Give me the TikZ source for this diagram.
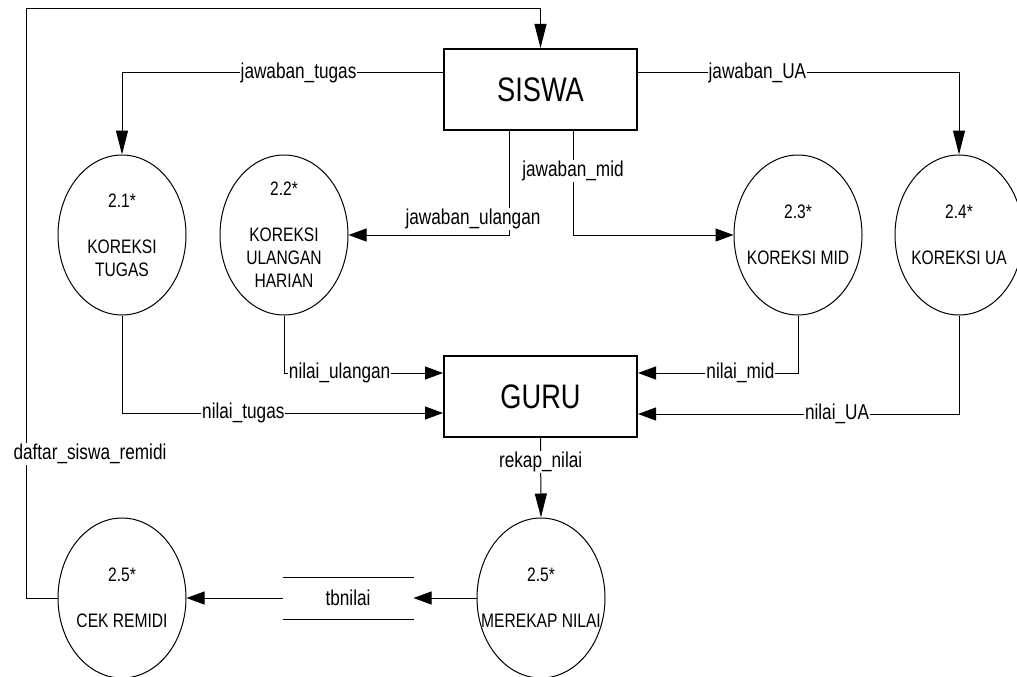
\documentclass[tikz,border=0pt]{standalone}
\usepackage{fontspec}
\setmainfont{Liberation Sans}[FakeStretch=0.8]
\usetikzlibrary{arrows.meta,shapes.geometric}
\newcommand{\bigtxt}{\fontsize{34}{40}\selectfont}
\newcommand{\proctxt}{\fontsize{19.5}{23}\selectfont}
\newcommand{\flowtxt}{\fontsize{21.5}{25}\selectfont}

\begin{document}
\begin{tikzpicture}[x=1pt, y=-1pt, line width=1pt,
    entity/.style={draw, line width=2pt, minimum width=193pt, minimum height=81pt, inner sep=0pt, font=\bigtxt},
    proc/.style={draw, ellipse, minimum width=128pt, minimum height=160pt, inner sep=0pt},
    ptext/.style={align=center, font=\proctxt, inner sep=0pt},
    store/.style={minimum width=130pt, minimum height=41pt, inner sep=0pt, font=\flowtxt},
    lbl/.style={fill=white, inner sep=1pt, font=\flowtxt},
    hflow/.style={-{Triangle[length=18pt,width=13pt]}},
    vflow/.style={-{Triangle[length=24pt,width=12pt]}}]
        \useasboundingbox (0,0) rectangle (1017,677);
        \node[entity] (siswa) at (540.5,89.5) {SISWA};
        \node[entity] (guru) at (540.5,396.5) {GURU};
        \node[proc] (k21) at (122,235) {};
        \node[proc] (k22) at (284,235) {};
        \node[proc] (k23) at (798,235) {};
        \node[proc] (k24) at (959,235) {};
        \node[proc] (rekap) at (541,598) {};
        \node[proc] (cek) at (122,598) {};
        \node[ptext] (t21) at (k21) {2.1*\\[23pt]KOREKSI\\TUGAS};
        \node[ptext] (t22) at (k22) {2.2*\\[23pt]KOREKSI\\ULANGAN\\HARIAN};
        \node[ptext] (t23) at (k23) {2.3*\\[23pt]KOREKSI MID};
        \node[ptext] (t24) at (k24) {2.4*\\[23pt]KOREKSI UA};
        \node[ptext] (trekap) at (rekap) {2.5*\\[23pt]MEREKAP NILAI};
        \node[ptext] (tcek) at (cek) {2.5*\\[23pt]CEK REMIDI};
        \node[store] (tb) at (348,598) {tbnilai};
        \draw (tb.north west) -- (tb.north east) (tb.south west) -- (tb.south east);
        \coordinate (corner) at (26,9);
        \draw[vflow] ([yshift=16.5pt]siswa.west) -| node[lbl, pos=0.225] {jawaban\_tugas} (k21.north);
        \draw[hflow] ([xshift=-31.5pt]siswa.south) |- node[lbl, pos=0.424, xshift=-36pt] {jawaban\_ulangan} (k22.east);
        \draw[hflow] ([xshift=32.5pt]siswa.south) |- node[lbl, pos=0.19] {jawaban\_mid} (k23.west);
        \draw[vflow] ([yshift=16.5pt]siswa.east) -| node[lbl, pos=0.186] {jawaban\_UA} (k24.north);
        \draw[hflow] (k22.south) |- node[lbl, pos=0.675] {nilai\_ulangan} ([yshift=23.5pt]guru.west);
        \draw[hflow] (k21.south) |- node[lbl, pos=0.689] {nilai\_tugas} ([yshift=-16.5pt]guru.west);
        \draw[hflow] (k23.south) |- node[lbl, pos=0.68] {nilai\_mid} ([yshift=23.5pt]guru.east);
        \draw[hflow] (k24.south) |- node[lbl, pos=0.69] {nilai\_UA} ([yshift=-17.5pt]guru.east);
        \draw[vflow] (guru.south) -- node[lbl, pos=0.3] {rekap\_nilai} (rekap.north);
        \draw[hflow] (rekap.west) -- (tb.east);
        \draw[hflow] (tb.west) -- (cek.east);
        \draw[vflow] (cek.west) -| node[lbl, pos=0.622, xshift=64pt] {daftar\_siswa\_remidi} (corner) -| (siswa.north);
\end{tikzpicture}
\end{document}
